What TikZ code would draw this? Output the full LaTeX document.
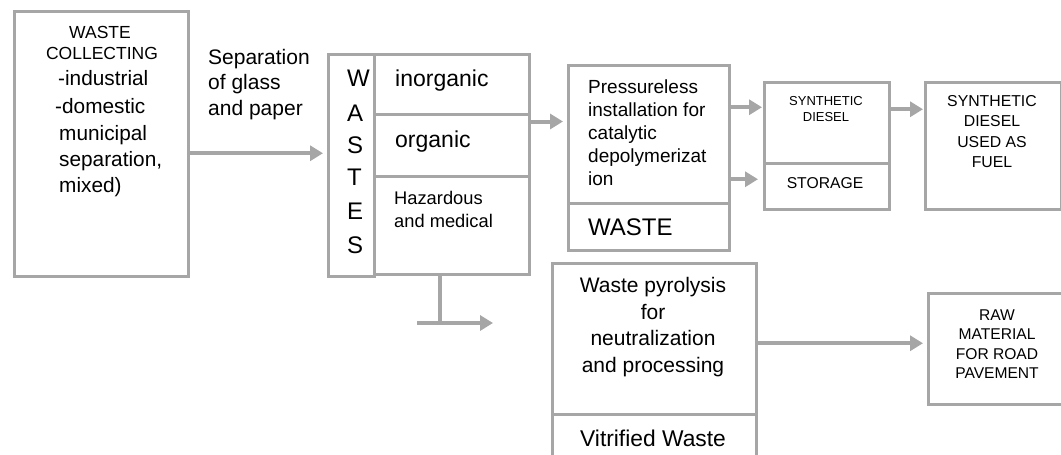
\documentclass[tikz,border=0pt]{standalone}
\usepackage{fontspec}
\setmainfont{Liberation Sans}
\usetikzlibrary{arrows.meta,calc}
\definecolor{lg}{HTML}{A6A6A6}
\tikzset{
 box/.style={draw=lg, line width=2.5pt, rectangle, inner sep=0pt, anchor=north west},
 arr/.style={draw=lg, line width=4pt, -{Triangle[length=13pt,width=15pt]}},
 ln/.style={draw=lg, line width=4pt},
 txt/.style={inner sep=0pt, anchor=base west},
 ctxt/.style={inner sep=0pt, anchor=base},
}
\newcommand{\fs}[1]{\fontsize{#1}{#1}\selectfont}
\begin{document}
\begin{tikzpicture}[x=1pt,y=-1pt]
\useasboundingbox (0,0) rectangle (1061,455);
\clip (0,0) rectangle (1061,455);
% boxes
\node[box, minimum width=174pt, minimum height=265pt] (collect) at (13,10) {};
\node[box, minimum width=46pt, minimum height=222pt] (wstrip) at (327,53) {};
\node[box, minimum width=155pt, minimum height=60pt] (inorg) at (373,53) {};
\node[box, minimum width=155pt, minimum height=62pt] (org) at (373,113) {};
\node[box, minimum width=155pt, minimum height=98pt] (haz) at (373,175) {};
\node[box, minimum width=161pt, minimum height=138pt] (press) at (567,64) {};
\node[box, minimum width=161pt, minimum height=47pt] (pwaste) at (567,202) {};
\node[box, minimum width=125pt, minimum height=81pt] (synth) at (763,81) {};
\node[box, minimum width=125pt, minimum height=46pt] (storage) at (763,162) {};
\node[box, minimum width=136pt, minimum height=127pt] (fuel) at (924,81) {};
\node[box, minimum width=204pt, minimum height=151pt] (pyro) at (551,262) {};
\node[box, minimum width=204pt, minimum height=60pt] (vitr) at (551,413) {};
\node[box, minimum width=150pt, minimum height=111pt] (raw) at (927,292) {};
% connectors
\draw[arr, shorten >=4pt] ([yshift=-9.5pt]collect.east) -- ([yshift=-9.5pt]collect.east -| wstrip.west);
\draw[arr, shorten >=4pt] ([yshift=-6pt]inorg.south east) -- ([yshift=-6pt]inorg.south east -| press.west);
\draw[arr, shorten >=1pt] ([yshift=27pt]press.east) -- ([yshift=27pt]press.east -| synth.west);
\draw[arr, shorten >=5pt] ([yshift=-45pt]press.east) -- ([yshift=-45pt]press.east -| storage.west);
\draw[arr, shorten >=1pt] ([yshift=13.5pt]synth.east) -- ([yshift=13.5pt]synth.east -| fuel.west);
\coordinate (tj) at (440,323);
\coordinate (tl) at (417,323);
\coordinate (tr) at (493,323);
\draw[ln] (haz.south -| tj) -- (tj);
\draw[arr] (tl) -- (tr);
\draw[arr, shorten >=4pt] ([yshift=-4.5pt]pyro.east) -- ([yshift=-4.5pt]pyro.east -| raw.west);
% texts: waste collecting
\node[ctxt, font=\fs{17.5}] (c1) at (100,38) {WASTE};
\node[ctxt, font=\fs{17.5}] (c2) at (102,59.5) {COLLECTING};
\node[txt, font=\fs{20.8}] (c3) at (58,85.5) {-industrial};
\node[txt, font=\fs{20.8}] (c4) at (55,113) {-domestic};
\node[txt, font=\fs{20.8}] (c5) at (59,140) {municipal};
\node[txt, font=\fs{20.8}] (c6) at (59,166.5) {separation,};
\node[txt, font=\fs{20.8}] (c7) at (59,192.5) {mixed)};
% separation label
\node[txt, font=\fs{21}] (s1) at (208,64) {Separation};
\node[txt, font=\fs{21}] (s2) at (208,89) {of glass};
\node[txt, font=\fs{21}] (s3) at (208,115) {and paper};
% WASTES
\node[txt, font=\fs{24}] (w1) at (347,86.5) {W};
\node[txt, font=\fs{24}] (w2) at (347,121.5) {A};
\node[txt, font=\fs{24}] (w3) at (347,153.5) {S};
\node[txt, font=\fs{24}] (w4) at (347,185.5) {T};
\node[txt, font=\fs{24}] (w5) at (347,219.5) {E};
\node[txt, font=\fs{24}] (w6) at (347,253.5) {S};
% categories
\node[txt, font=\fs{23}] (t1) at (395,86) {inorganic};
\node[txt, font=\fs{23}] (t2) at (395,147) {organic};
\node[txt, font=\fs{18.3}] (t3) at (394,204.5) {Hazardous};
\node[txt, font=\fs{18.3}] (t4) at (394,227) {and medical};
% pressureless
\node[txt, font=\fs{19}] (p1) at (588,93.5) {Pressureless};
\node[txt, font=\fs{19}] (p2) at (588,116.5) {installation for};
\node[txt, font=\fs{19}] (p3) at (588,139.5) {catalytic};
\node[txt, font=\fs{19}] (p4) at (588,162.5) {depolymerizat};
\node[txt, font=\fs{19}] (p5) at (588,185.5) {ion};
\node[txt, font=\fs{24}] (p6) at (588,235) {WASTE};
% synthetic diesel / storage
\node[ctxt, font=\fs{13}] (d1) at (826,105) {SYNTHETIC};
\node[ctxt, font=\fs{13}] (d2) at (826,121.7) {DIESEL};
\node[ctxt, font=\fs{15.7}] (d3) at (825,188.3) {STORAGE};
% fuel
\node[ctxt, font=\fs{15.8}] (f1) at (992,106.7) {SYNTHETIC};
\node[ctxt, font=\fs{15.8}] (f2) at (992,126.7) {DIESEL};
\node[ctxt, font=\fs{15.8}] (f3) at (992,147) {USED AS};
\node[ctxt, font=\fs{15.8}] (f4) at (992,167) {FUEL};
% pyrolysis
\node[ctxt, font=\fs{21}] (y1) at (653,292.5) {Waste pyrolysis};
\node[ctxt, font=\fs{21}] (y2) at (653,319.5) {for};
\node[ctxt, font=\fs{21}] (y3) at (653,345.5) {neutralization};
\node[ctxt, font=\fs{21}] (y4) at (653,372.5) {and processing};
\node[ctxt, font=\fs{22.8}] (y5) at (653,446) {Vitrified Waste};
% raw material
\node[ctxt, font=\fs{15.6}] (r1) at (997,320) {RAW};
\node[ctxt, font=\fs{15.6}] (r2) at (997,339.5) {MATERIAL};
\node[ctxt, font=\fs{15.6}] (r3) at (997,359) {FOR ROAD};
\node[ctxt, font=\fs{15.6}] (r4) at (997,378.5) {PAVEMENT};
\end{tikzpicture}
\end{document}
